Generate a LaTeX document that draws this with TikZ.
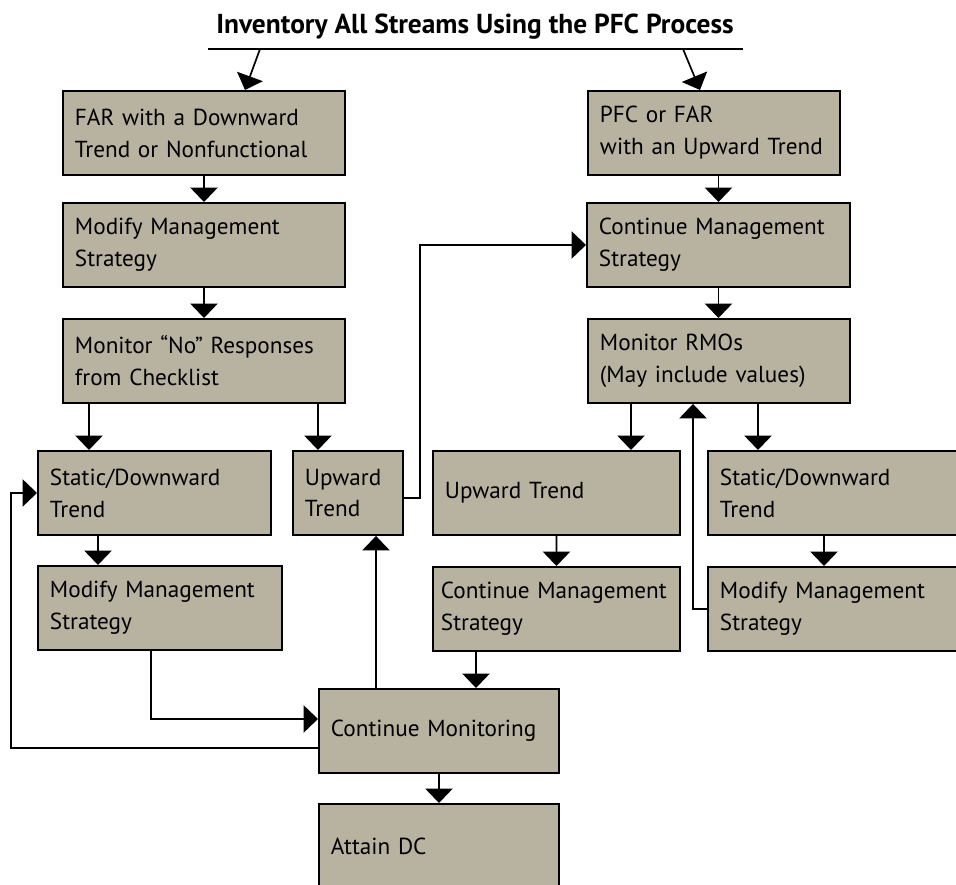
\documentclass[tikz,border=0pt]{standalone}
\usepackage{fontspec}
\setmainfont{PT Sans}
\usetikzlibrary{
  arrows.meta,
  calc,
  positioning,
}
\hyphenpenalty=10000
\exhyphenpenalty=10000
\definecolor{boxgray}{RGB}{184,178,160}
\tikzset{
  >={Triangle[length=0.36cm, width=0.68cm]},
  box/.style={draw, line width=1.4pt, fill=boxgray, anchor=north west,
    align=left, minimum height=2.1cm, inner xsep=0.3cm, text width=#1,
    font=\fontsize{16.5}{22.7}\selectfont},
  link/.style={line width=1.2pt},
}

\begin{document}
\begin{tikzpicture}
      \useasboundingbox (0, 0) rectangle (23.9, 22.1);
      \clip (0, 0) rectangle (23.9, 22.1);
      \node (title) [anchor=base, font=\bfseries\fontsize{19.5}{23}\selectfont]
        at (11.875, 21.25) {Inventory All Streams Using the PFC Process};
      \draw [link] (5.2, 20.875) -- (18.575, 20.875);
      \coordinate (tl) at (6.5, 20.875);
      \coordinate (tr) at (17.075, 20.875);

      \node (far) [box=6.45cm] at (1.55, 19.85) {FAR with a Downward\\Trend or Nonfunctional};
      \node (modL) [box=6.45cm] at (1.55, 17.05) {Modify Management\\Strategy};
      \node (monL) [box=6.45cm] at (1.55, 14.15) {Monitor “No” Responses\\from Checklist};
      \node (statL) [box=5.225cm] at (0.925, 10.85) {Static/Downward\\Trend};
      \node (upL) [box=2.15cm] at (7.3, 10.85) {Upward\\Trend};
      \node (modL2) [box=5.5cm] at (0.925, 7.975) {Modify Management\\Strategy};
      \node (contmon) [box=5.4cm] at (7.95, 4.9) {Continue Monitoring};
      \node (attain) [box=5.4cm] at (7.95, 2.025) {Attain DC};

      \node (pfc) [box=5.7cm] at (14.675, 19.85) {PFC or FAR\\with an Upward Trend};
      \node (contR) [box=5.975cm] at (14.65, 17.05) {Continue Management\\Strategy};
      \node (monR) [box=5.95cm] at (14.675, 14.15) {Monitor RMOs\\(May include values)};
      \node (upR) [box=5.575cm] at (10.8, 10.85) {Upward Trend};
      \node (statR) [box=6cm] at (17.675, 10.85) {Static/Downward\\Trend};
      \node (contR2) [box=5.775cm, inner xsep=0.2cm] at (10.8, 7.95) {Continue Management\\Strategy};
      \node (modR) [box=6cm] at (17.675, 7.95) {Modify Management\\Strategy};

      \draw [->, link] (tl) -- ([xshift=4.575cm]far.north west);
      \draw [->, link] (tr) -- ([xshift=2.825cm]pfc.north west);
      \draw [->, link] (far) -- (modL);
      \draw [->, link] (modL) -- (monL);
      \draw [->, link] ([xshift=0.675cm]monL.south west) coordinate (m1) -- (m1 |- statL.north);
      \draw [->, link] ([xshift=-0.7cm]monL.south east) coordinate (m2) -- (m2 |- upL.north);
      \draw [->, link] ([xshift=1.525cm]statL.south west) coordinate (s1) -- (s1 |- modL2.north);
      \draw [->, link] ([xshift=2.85cm]modL2.south west) |- ([yshift=0.3cm]contmon.west);
      \draw [->, link] ([yshift=-0.425cm]contmon.west) -| ([xshift=-0.65cm]statL.west) -- (statL.west);
      \draw [->, link] ([xshift=1.45cm]contmon.north west) coordinate (c1) -- (c1 |- upL.south);
      \draw [->, link] (contmon) -- (attain);
      \draw [->, link] ([yshift=-0.125cm]upL.east) -- ++(0.4, 0) |- (contR.west);

      \draw [->, link] (contR.north |- pfc.south) -- (contR.north);
      \draw [->, link] (contR.south) -- (contR.south |- monR.north);
      \draw [->, link] ([xshift=1.1cm]monR.south west) coordinate (r1) -- (r1 |- upR.north);
      \draw [->, link] ([xshift=4.275cm]monR.south west) coordinate (r2) -- (r2 |- statR.north);
      \draw [->, link] (upR) -- (contR2);
      \draw [->, link] ([xshift=2.925cm]statR.south west) coordinate (r3) -- (r3 |- modR.north);
      \draw [->, link] (modR.west) -- ++(-0.35, 0) coordinate (r4) -- (r4 |- monR.south);
      \draw [->, link] ([xshift=1.1cm]contR2.south west) coordinate (r5) -- (r5 |- contmon.north);
\end{tikzpicture}
\end{document}
